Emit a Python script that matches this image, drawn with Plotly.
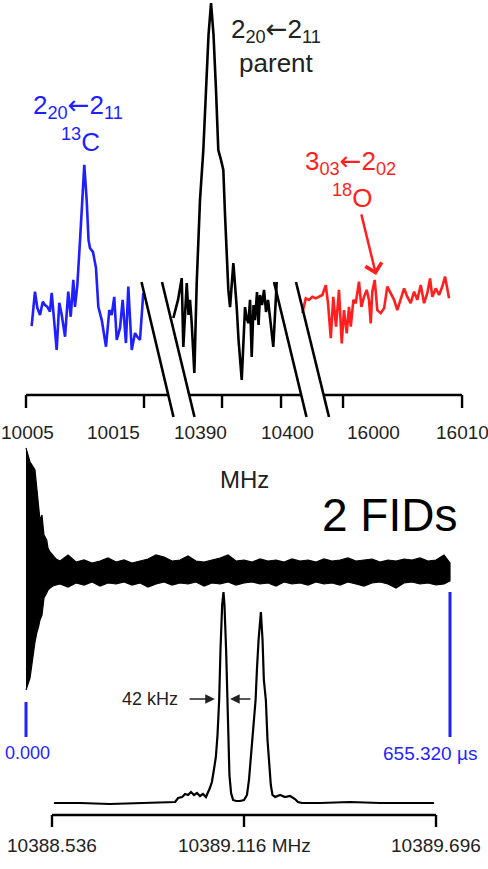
import plotly.graph_objects as go

W, H = 488, 869
FONT = "Liberation Sans"
BLUE = "#1f1fff"
RED = "#ff1f1f"
GREY = "#222222"

# ---------------- data ----------------
# top spectrum: 13C segment (MHz, relative intensity, parent peak = 100)
c13_freq = [10005.48, 10005.76, 10005.96, 10006.19, 10006.42, 10006.61, 10006.81, 10007.03, 10007.18,
            10007.37, 10007.60, 10007.82, 10008.03, 10008.31, 10008.58, 10008.79, 10009.01, 10009.15,
            10009.35, 10009.58, 10009.72, 10009.94, 10010.14, 10010.30, 10010.42, 10010.68, 10010.93,
            10011.13, 10011.42, 10011.78, 10012.06, 10012.26, 10012.48, 10012.69, 10012.97, 10013.19,
            10013.47, 10013.67, 10013.96, 10014.24, 10014.43, 10014.66, 10014.94]
c13_int = [-7.0, 4.4, -1.0, -3.3, 1.1, 0, -0.6, -2.2, 4.0, -3.9, -14.9, 0.7, -3.3, -10.5, 4.4, -3.9,
           8.3, -0.6, 6.6, 21.5, 33.1, 46.4, 34.8, 21.5, 18.9, 17.5, 12.3, -0.6, -5.0, -13.8, -1.7,
           -3.3, 2.7, -11.6, -7.6, 1.7, -12.6, 6.1, -14.9, -9.3, -10.5, -11.6, 4.0]

# parent segment
par_freq = [10381.75, 10382.54, 10383.17, 10383.44, 10384.02, 10384.32, 10384.58, 10384.86, 10385.31,
            10385.71, 10386.27, 10386.83, 10387.29, 10387.71, 10388.14, 10388.56, 10388.98, 10389.37,
            10389.83, 10390.22, 10390.51, 10390.80, 10391.07, 10391.36, 10391.92, 10392.49, 10392.80,
            10393.34, 10393.90, 10394.15, 10394.46, 10394.75, 10395.03, 10395.34, 10395.59, 10395.93,
            10396.19, 10396.44, 10396.78, 10397.12, 10397.46, 10397.80, 10398.14, 10398.69, 10399.27]
par_int = [-4.3, 1.7, 8.9, -13.9, 7.3, -3.3, 1.7, -6.0, -22.5, 7.3, 34.8, 51.3, 71.2, 89.4, 100, 89.4,
           71.2, 51.3, 48.0, 44.7, 29.8, 14.9, 5.0, -0.7, 13.9, -0.7, -11.6, -24.8, -0.7, -4.3, -6.0,
           1.7, -17.2, 0, -5.0, 4.3, -6.6, 3.3, 0, 5.0, -2.3, 1.7, -4.3, -13.9, 7.6]

# 18O segment
o18_freq = [15996.58, 15996.87, 15997.14, 15997.42, 15997.71, 15997.98, 15998.26, 15998.55, 15998.74,
            15998.97, 15999.18, 15999.41, 15999.66, 15999.89, 16000.08, 16000.31, 16000.50, 16000.65,
            16000.87, 16001.07, 16001.34, 16001.54, 16001.76, 16001.99, 16002.18, 16002.33, 16002.46,
            16002.66, 16002.88, 16003.17, 16003.45, 16003.72, 16004.01, 16004.29, 16004.56, 16004.85,
            16005.13, 16005.40, 16005.69, 16005.97, 16006.24, 16006.53, 16006.81, 16007.08, 16007.31,
            16007.50, 16007.79, 16008.07, 16008.34, 16008.57, 16008.91]
o18_int = [-2.7, 2.2, 1.7, 2.7, 2.2, 2.7, 3.3, 6.6, 0.6, -11.0, 2.7, -7.2, 5.0, -12.7, -1.7, -9.4, -0.6,
           -7.2, 1.7, 0.6, 7.7, -0.6, 2.7, 5.0, 1.7, -6.1, 4.4, 8.3, -1.7, -2.7, -1.1, 6.1, 3.9, 1.7,
           -1.7, 1.7, 5.5, 2.7, 0.6, 4.4, 1.7, 6.6, 0.6, 3.9, 8.8, 2.7, 5.5, 3.3, 6.1, 9.4, 2.2]

top_ticks = [10005, 10015, 10390, 10400, 16000, 16010]

# FID (time in microseconds, envelope of signal in arbitrary units)
fid_t = [0, 3.1, 6.2, 9.3, 13.9, 17.0, 19.3, 21.6, 24.7, 27.8, 32.0, 34.0, 37.1, 41.7, 46.4,
         52.6, 65.0, 77.4, 89.7, 102.1, 114.4, 126.8, 139.2, 151.5, 163.9, 176.3, 188.6, 201.0,
         213.4, 225.7, 238.1, 250.4, 262.8, 275.2, 287.5, 299.9, 312.3, 324.6, 337.0, 349.4,
         361.7, 374.1, 386.4, 398.8, 411.2, 423.5, 435.9, 448.3, 460.6, 473.0, 485.4, 497.7,
         510.1, 522.4, 534.8, 547.2, 559.5, 571.9, 584.3, 596.6, 609.0, 621.4, 633.7, 646.1, 655.3]
fid_upper = [125, 118, 111, 108, 103, 83, 68, 53, 58, 38, 33, 25, 21, 18, 14,
             12, 18, 11, 13, 10, 12, 15, 11, 13, 10, 12, 14, 18, 16, 12, 13, 17, 12, 11, 13,
             15, 18, 12, 13, 11, 14, 12, 13, 11, 14, 12, 13, 11, 14, 12, 13, 15, 12, 13, 14,
             11, 13, 12, 14, 13, 15, 12, 13, 18, 10]
fid_lower = [-117, -111, -105, -92, -69, -59, -54, -47, -42, -25, -20, -17, -15, -13, -12,
             -11, -14, -10, -12, -9, -13, -10, -11, -9, -12, -10, -14, -11, -9, -12, -10,
             -11, -9, -13, -10, -11, -9, -12, -10, -9, -11, -10, -13, -9, -11, -10, -12,
             -9, -11, -10, -12, -9, -11, -13, -10, -9, -11, -15, -10, -9, -11, -10, -12,
             -11, -8]
fid_end_us = 655.320

# bottom spectrum (MHz, intensity a.u.)
ft_freq = [10388.542, 10388.621, 10388.711, 10388.802, 10388.862, 10388.908, 10388.917, 10388.929,
           10388.938, 10388.947, 10388.956, 10388.965, 10388.974, 10388.983, 10388.992, 10389.001,
           10389.013, 10389.019, 10389.025, 10389.031, 10389.036, 10389.041, 10389.045, 10389.050,
           10389.054, 10389.057, 10389.062, 10389.066, 10389.069, 10389.072, 10389.077, 10389.083,
           10389.092, 10389.104, 10389.116, 10389.125, 10389.131, 10389.137, 10389.142, 10389.146,
           10389.151, 10389.155, 10389.160, 10389.167, 10389.172, 10389.176, 10389.182, 10389.187,
           10389.192, 10389.197, 10389.202, 10389.210, 10389.225, 10389.240, 10389.255, 10389.270,
           10389.279, 10389.291, 10389.346, 10389.436, 10389.527, 10389.618, 10389.690]
ft_int = [0, 0, -1, 0, 0, 1, 5, 6, 9, 8, 11, 8, 10, 7, 9, 6, 15, 21, 33, 46, 68, 103, 153, 198, 211,
          198, 153, 103, 63, 28, 10, 3, 2, 2, 3, 8, 23, 48, 70, 88, 103, 133, 163, 191, 163, 123,
          103, 63, 36, 18, 8, 6, 8, 6, 7, 4, 1, 0, 0, 1, 0, 0, 0]
ft_ticks = [10388.536, 10389.116, 10389.696]
ft_ticklabels = ["10388.536", "10389.116 MHz", "10389.696"]
fwhm_left, fwhm_right = 10389.028, 10389.074


def PX(p):
    return p / W


def PY(p):
    return 1 - p / H


ARW = '<span style="font-family:DejaVu Sans">\u2190</span>'

fig = go.Figure()
lw = 2.6
fig.add_trace(go.Scatter(x=c13_freq, y=c13_int, xaxis="x", yaxis="y", mode="lines",
                         line=dict(color=BLUE, width=lw)))
fig.add_trace(go.Scatter(x=par_freq, y=par_int, xaxis="x2", yaxis="y", mode="lines",
                         line=dict(color="black", width=lw)))
fig.add_trace(go.Scatter(x=o18_freq, y=o18_int, xaxis="x3", yaxis="y", mode="lines",
                         line=dict(color=RED, width=lw)))
fig.add_trace(go.Scatter(x=fid_t + fid_t[::-1], y=fid_upper + fid_lower[::-1], xaxis="x4", yaxis="y2",
                         mode="lines", fill="toself", fillcolor="black",
                         line=dict(color="black", width=1.2)))
fig.add_trace(go.Scatter(x=ft_freq, y=ft_int, xaxis="x5", yaxis="y3", mode="lines",
                         line=dict(color="black", width=2.2)))

shapes = []
annos = []

# top axis segments
ya = PY(395)
yt = PY(408)
for ax, x0, x1 in [("x", 10005, 10017.03), ("x2", 10384.49, 10403.47), ("x3", 15998.40, 16010)]:
    shapes.append(dict(type="line", xref=ax, yref="paper", x0=x0, x1=x1, y0=ya, y1=ya,
                       line=dict(color="black", width=2.4)))
tick_axes = ["x", "x", "x2", "x2", "x3", "x3"]
tick_shift = [1, -31, -22, 6, 30, 0]
for t, ax, sh in zip(top_ticks, tick_axes, tick_shift):
    shapes.append(dict(type="line", xref=ax, yref="paper", x0=t, x1=t, y0=ya, y1=yt,
                       line=dict(color="black", width=2.4)))
    annos.append(dict(x=t, y=PY(432), xref=ax, yref="paper", text=str(t), showarrow=False,
                      xanchor="center", yanchor="middle", xshift=sh,
                      font=dict(family=FONT, size=19, color=GREY)))

# axis break marks
for (xa, ya0, xb, yb) in [(141.5, 282, 173.5, 417), (162, 282, 194.5, 417),
                          (274, 282, 306.5, 417), (296, 282, 329, 417)]:
    shapes.append(dict(type="line", xref="paper", yref="paper", x0=PX(xa), y0=PY(ya0),
                       x1=PX(xb), y1=PY(yb), line=dict(color="black", width=2.6)))

# labels top
lab = [
    dict(x=PX(78), y=PY(106), text="2<sub>20</sub>" + ARW + "2<sub>11</sub>", font=dict(size=26, color=BLUE)),
    dict(x=PX(80), y=PY(140), text="<sup>13</sup>C", font=dict(size=26, color=BLUE)),
    dict(x=PX(276), y=PY(46), text="2<sub>20</sub>" + ARW + "2<sub>11</sub><br>parent",
         font=dict(size=26, color=GREY)),
    dict(x=PX(350), y=PY(162), text="3<sub>03</sub>" + ARW + "2<sub>02</sub>", font=dict(size=26, color=RED)),
    dict(x=PX(352), y=PY(196), text="<sup>18</sup>O", font=dict(size=26, color=RED)),
    dict(x=PX(244), y=PY(480), text="MHz", font=dict(size=24, color=GREY)),
    dict(x=PX(389), y=PY(515), text="2 FIDs", font=dict(size=46, color="black")),
]
for a in lab:
    a.update(xref="paper", yref="paper", showarrow=False, xanchor="center", yanchor="middle")
    a["font"]["family"] = FONT
annos += lab

# 18O arrow
annos.append(dict(x=16002.78, y=9.9, ax=16001.51, ay=30.5, xref="x3", yref="y", axref="x3", ayref="y",
                  text="", showarrow=True, arrowhead=4, arrowsize=1.3, arrowwidth=2.5, arrowcolor=RED))

# FID time markers
for t, y0 in [(0, -129), (fid_end_us, -19)]:
    shapes.append(dict(type="line", xref="x4", yref="y2", x0=t, x1=t, y0=y0, y1=-164,
                       line=dict(color=BLUE, width=3)))
annos.append(dict(x=0, y=-180, xref="x4", yref="y2", text="0.000", showarrow=False, xshift=1,
                  xanchor="center", yanchor="middle", font=dict(family=FONT, size=18, color=BLUE)))
annos.append(dict(x=fid_end_us, y=-180, xref="x4", yref="y2", text="%.3f \u00b5s" % fid_end_us,
                  showarrow=False, xshift=-20, xanchor="center", yanchor="middle",
                  font=dict(family=FONT, size=19, color=BLUE)))

# bottom axis
yb = PY(815)
ybt = PY(827)
shapes.append(dict(type="line", xref="x5", yref="paper", x0=ft_ticks[0], x1=ft_ticks[-1], y0=yb, y1=yb,
                   line=dict(color="black", width=2.4)))
for t, labt in zip(ft_ticks, ft_ticklabels):
    shapes.append(dict(type="line", xref="x5", yref="paper", x0=t, x1=t, y0=yb, y1=ybt,
                       line=dict(color="black", width=2.4)))
    annos.append(dict(x=t, y=PY(845), xref="x5", yref="paper", text=labt, showarrow=False,
                      xanchor="center", yanchor="middle", font=dict(family=FONT, size=19, color=GREY)))

# 42 kHz arrows
annos.append(dict(x=fwhm_left, y=104, ax=10388.947, ay=104, xref="x5", yref="y3", axref="x5", ayref="y3",
                  text="", showarrow=True, arrowhead=2, arrowsize=1.2, arrowwidth=1.6, arrowcolor=GREY))
annos.append(dict(x=fwhm_right, y=104, ax=10389.140, ay=104, xref="x5", yref="y3", axref="x5", ayref="y3",
                  text="", showarrow=True, arrowhead=2, arrowsize=1.2, arrowwidth=1.6, arrowcolor=GREY))
annos.append(dict(x=10388.947, y=104, xref="x5", yref="y3", text="42 kHz", showarrow=False,
                  xanchor="right", yanchor="middle", xshift=-8, font=dict(family=FONT, size=18, color=GREY)))

hidden = dict(visible=False, showgrid=False, zeroline=False, domain=[0, 1], fixedrange=True)
fig.update_layout(
    width=W, height=H, margin=dict(l=0, r=0, t=0, b=0),
    paper_bgcolor="white", plot_bgcolor="white", showlegend=False,
    font=dict(family=FONT),
    xaxis=dict(hidden, range=[10002.797, 10044.153]),
    xaxis2=dict(hidden, range=[10352.37, 10435.08], overlaying="x"),
    xaxis3=dict(hidden, range=[15971.18, 16012.18], overlaying="x"),
    xaxis4=dict(hidden, range=[-40.19, 714.07], overlaying="x"),
    xaxis5=dict(hidden, range=[10388.379, 10389.853], overlaying="x"),
    yaxis=dict(hidden, range=[-186.75, 100.99]),
    yaxis2=dict(hidden, range=[-296, 573], overlaying="y"),
    yaxis3=dict(hidden, range=[-66, 803], overlaying="y"),
    shapes=shapes, annotations=annos,
)
fig.write_html("out.html")
